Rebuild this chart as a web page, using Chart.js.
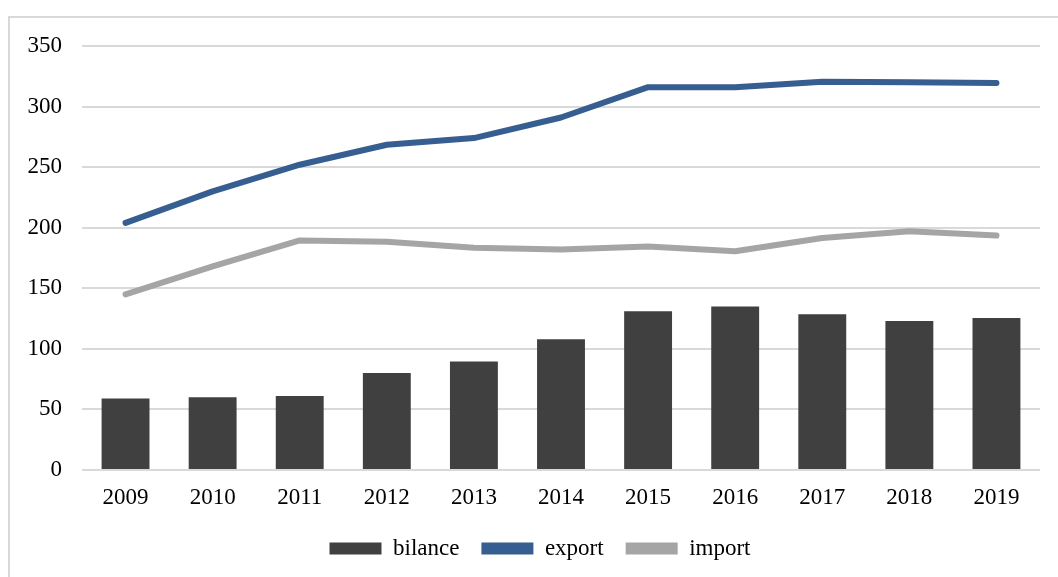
<!DOCTYPE html>
<html>
<head>
<meta charset="utf-8">
<script src="https://cdn.jsdelivr.net/npm/chart.js@4/dist/chart.umd.min.js"></script>
<style>
  html, body { margin: 0; padding: 0; background: #fff; overflow: hidden; }
  #frame { position: absolute; left: 8px; top: 16px; width: 1100px; height: 620px; border: 2px solid #d9d9d9; box-sizing: border-box; }
  #wrap { position: absolute; left: 0; top: 0; width: 1058px; height: 577px; }
</style>
</head>
<body>
<div id="frame"></div>
<div id="wrap"><canvas id="chart"></canvas></div>
<script>
var years = ['2009','2010','2011','2012','2013','2014','2015','2016','2017','2018','2019'];
var bilance = [59, 60, 61, 80, 89.5, 108, 131, 135, 128.5, 123, 125.5];
var exportVals = [204, 230, 252, 268.5, 274, 291, 316, 316, 320.5, 320, 319.5];
var importVals = [145, 168, 189.5, 188.5, 183.5, 182, 184.5, 180.5, 191.5, 197, 193.5];

var serif = "'Liberation Serif', 'Times New Roman', serif";

// nudge the legend a little to the right, like in the original
var shiftLegend = {
    id: 'shiftLegend',
    afterLayout: function(chart) {
        chart.legend.left += 20;
        chart.legend.right += 20;
    }
};

var ctx = document.getElementById('chart').getContext('2d');
var chart = new Chart(ctx, {
    type: 'bar',
    data: {
        labels: years,
        datasets: [
            {
                label: 'bilance',
                data: bilance,
                backgroundColor: '#404040',
                barPercentage: 0.55,
                categoryPercentage: 1.0
            },
            {
                type: 'line',
                label: 'export',
                data: exportVals,
                borderColor: '#365E90',
                backgroundColor: '#365E90',
                borderWidth: 6,
                borderCapStyle: 'round',
                borderJoinStyle: 'round',
                pointRadius: 0,
                tension: 0
            },
            {
                type: 'line',
                label: 'import',
                data: importVals,
                borderColor: '#A5A5A5',
                backgroundColor: '#A5A5A5',
                borderWidth: 6,
                borderCapStyle: 'round',
                borderJoinStyle: 'round',
                pointRadius: 0,
                tension: 0
            }
        ]
    },
    plugins: [shiftLegend],
    options: {
        responsive: true,
        maintainAspectRatio: false,
        animation: false,
        layout: { padding: { left: 0, right: 18, top: 46, bottom: 7 } },
        plugins: {
            tooltip: { enabled: false },
            legend: {
                position: 'bottom',
                labels: {
                    color: '#000',
                    font: { family: serif, size: 23 },
                    boxWidth: 52,
                    boxHeight: 12,
                    padding: 22,
                    generateLabels: function(chart) {
                        var items = Chart.defaults.plugins.legend.labels.generateLabels(chart);
                        items.forEach(function(it, i) {
                            var ds = chart.data.datasets[i];
                            it.fillStyle = ds.backgroundColor;
                            it.strokeStyle = ds.backgroundColor;
                            it.lineWidth = 0;
                        });
                        return items;
                    }
                }
            }
        },
        scales: {
            x: {
                grid: { display: false },
                border: { display: false },
                ticks: { color: '#000', font: { family: serif, size: 23 }, padding: 6, maxRotation: 0 },
                afterFit: function(axis) { axis.height = 45; }
            },
            y: {
                min: 0,
                max: 350,
                ticks: { stepSize: 50, color: '#000', font: { family: serif, size: 23 }, padding: 20 },
                grid: { color: '#d9d9d9', lineWidth: 2, drawTicks: false },
                border: { display: false },
                afterFit: function(axis) { axis.width = 82; }
            }
        }
    }
});
</script>
</body>
</html>
